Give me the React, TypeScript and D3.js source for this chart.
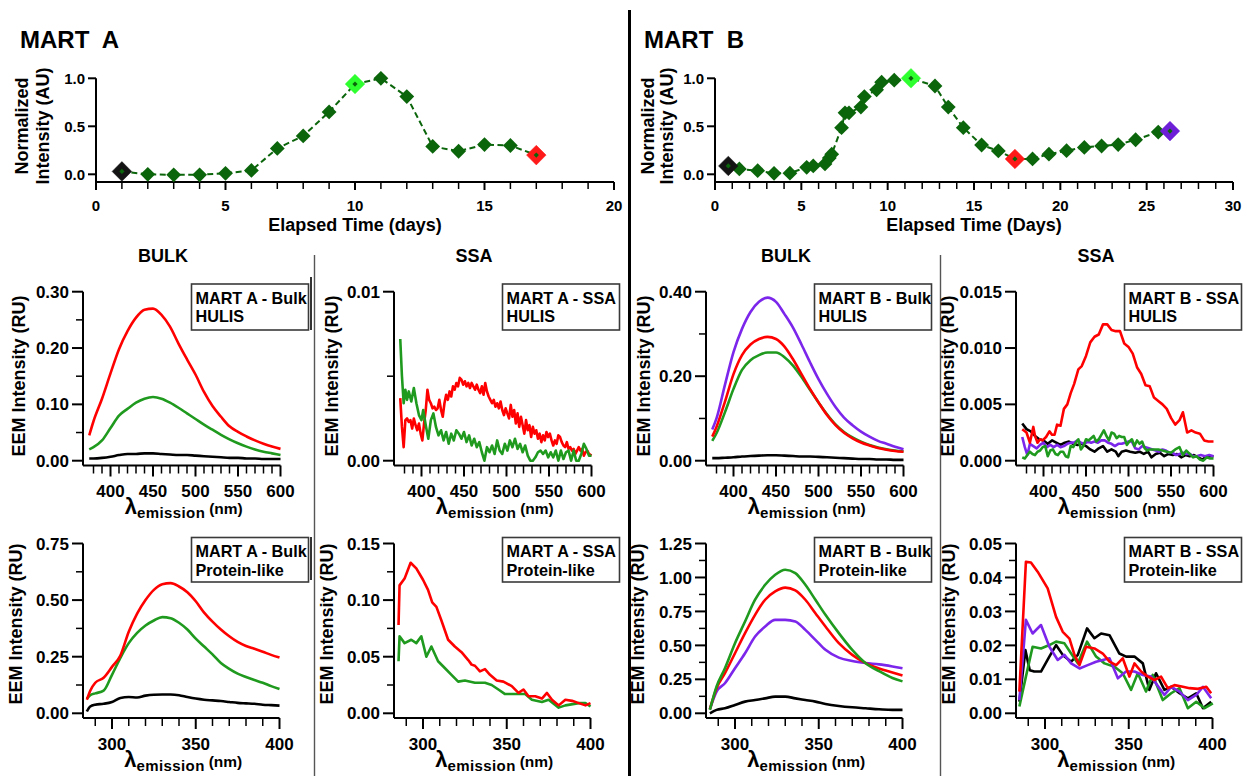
import React from 'react';
import * as d3 from 'd3';

const FONT = '"Liberation Sans", Arial, Helvetica, sans-serif';

// ---------- Time courses (normalized intensity vs elapsed time) ----------
const martADays = [1, 2, 3, 4, 5, 6, 7, 8, 9, 10, 11, 12, 13, 14, 15, 16, 17];
const martAIntensity = [0.03, 0.0, -0.005, -0.005, 0.01, 0.04, 0.27, 0.4, 0.65, 0.94, 1.0, 0.81, 0.29, 0.24, 0.31, 0.3, 0.2];
const martAMarkedDays = [1, 10, 17];
const martAMarkedColors = ['#141414', '#2eff2e', '#ff1a1a'];

const martBDays = [0.77, 1.41, 2.47, 3.42, 4.34, 5.31, 5.69, 6.37, 6.62, 6.76, 7.33, 7.53, 7.76, 8.45, 8.65, 9.36, 9.65, 10.38, 11.35, 12.74, 13.51, 14.38, 15.44, 16.41, 17.37, 18.39, 19.34, 20.36, 21.39, 22.39, 23.35, 24.36, 25.67, 26.35];
const martBIntensity = [0.087, 0.056, 0.038, 0.01, 0.012, 0.073, 0.087, 0.108, 0.17, 0.21, 0.486, 0.64, 0.64, 0.7, 0.81, 0.88, 0.96, 0.98, 1.0, 0.92, 0.7, 0.486, 0.305, 0.243, 0.16, 0.16, 0.21, 0.246, 0.28, 0.295, 0.31, 0.36, 0.44, 0.45];
const martBMarkedDays = [0.77, 11.35, 17.37, 26.35];
const martBMarkedColors = ['#141414', '#2eff2e', '#ff1a1a', '#6d1fd8'];

// ---------- Bulk HULIS spectra ----------
const hulisNm = [375, 380, 390, 400, 410, 420, 430, 440, 450, 460, 470, 480, 490, 500, 510, 520, 530, 540, 550, 560, 570, 580, 590, 600];
const bulkAHulisRed = [0.045, 0.07, 0.11, 0.155, 0.198, 0.23, 0.254, 0.268, 0.27, 0.259, 0.238, 0.208, 0.18, 0.153, 0.122, 0.097, 0.078, 0.061, 0.051, 0.043, 0.036, 0.03, 0.025, 0.021];
const bulkAHulisGreen = [0.02, 0.024, 0.036, 0.058, 0.08, 0.092, 0.103, 0.11, 0.113, 0.11, 0.103, 0.094, 0.084, 0.074, 0.064, 0.055, 0.046, 0.038, 0.031, 0.025, 0.02, 0.016, 0.013, 0.01];
const bulkAHulisBlack = [0.004, 0.004, 0.005, 0.007, 0.01, 0.012, 0.012, 0.013, 0.013, 0.012, 0.011, 0.01, 0.01, 0.009, 0.008, 0.007, 0.006, 0.005, 0.005, 0.004, 0.004, 0.003, 0.003, 0.003];

const bulkBHulisPurple = [0.074, 0.1, 0.18, 0.257, 0.312, 0.352, 0.376, 0.386, 0.376, 0.347, 0.315, 0.275, 0.233, 0.193, 0.158, 0.127, 0.102, 0.084, 0.069, 0.057, 0.047, 0.04, 0.033, 0.027];
const bulkBHulisRed = [0.057, 0.08, 0.14, 0.205, 0.25, 0.275, 0.288, 0.293, 0.288, 0.27, 0.24, 0.205, 0.17, 0.138, 0.108, 0.084, 0.066, 0.053, 0.043, 0.036, 0.03, 0.026, 0.023, 0.021];
const bulkBHulisGreen = [0.047, 0.065, 0.115, 0.17, 0.215, 0.238, 0.25, 0.256, 0.256, 0.245, 0.225, 0.198, 0.168, 0.138, 0.11, 0.086, 0.068, 0.055, 0.045, 0.037, 0.031, 0.027, 0.024, 0.022];
const bulkBHulisBlack = [0.006, 0.006, 0.007, 0.008, 0.01, 0.011, 0.012, 0.013, 0.013, 0.012, 0.011, 0.01, 0.01, 0.009, 0.008, 0.007, 0.006, 0.005, 0.004, 0.004, 0.003, 0.003, 0.002, 0.002];

// ---------- SSA HULIS spectra ([nm, RU]) ----------
const ssaAHulisGreen: [number, number][] = [[375, 0.0072], [377, 0.005], [379, 0.0034], [381, 0.0042], [383, 0.0036], [385, 0.0041], [388, 0.0035], [391, 0.0043], [394, 0.0034], [397, 0.0027], [400, 0.0024], [402, 0.003], [405, 0.0021], [408, 0.0013], [411, 0.0024], [414, 0.0028], [417, 0.002], [420, 0.0015], [423, 0.0018], [426, 0.0012], [429, 0.0017], [432, 0.001], [435, 0.0016], [438, 0.0012], [441, 0.0018], [444, 0.0016], [447, 0.0013], [450, 0.0017], [453, 0.0011], [456, 0.0015], [459, 0.0009], [462, 0.0013], [465, 0.0008], [468, 0.0011], [471, 0.0005], [474, 0.0], [477, 0.0008], [480, 0.0005], [483, 0.0009], [486, 0.0004], [489, 0.0012], [492, 0.0006], [495, 0.0004], [498, 0.001], [501, 0.0006], [504, 0.0012], [507, 0.0008], [510, 0.0013], [513, 0.0007], [516, 0.001], [519, 0.0005], [522, 0.0009], [525, 0.0003], [528, 0.0], [531, 0.0], [534, 0.0002], [537, 0.0005], [540, 0.0006], [543, 0.0004], [546, 0.0006], [549, 0.0002], [552, 0.0005], [555, 0.0002], [558, 0.0006], [561, 0.0], [564, 0.0006], [567, 0.0001], [570, 0.0005], [573, 0.0006], [576, 0.0], [579, 0.0006], [582, 0.0], [585, 0.0], [588, 0.0004], [591, 0.001], [594, 0.0007], [597, 0.0003], [600, 0.0003]];
const ssaAHulisRed: [number, number][] = [[375, 0.0037], [377, 0.002], [379, 0.0008], [381, 0.0024], [383, 0.0025], [385, 0.0023], [387, 0.0024], [389, 0.0019], [391, 0.0025], [393, 0.0021], [395, 0.0018], [397, 0.0022], [399, 0.0016], [401, 0.0012], [403, 0.0022], [405, 0.003], [407, 0.0042], [409, 0.0036], [411, 0.0034], [413, 0.0031], [415, 0.0032], [417, 0.003], [419, 0.0031], [421, 0.0036], [423, 0.003], [425, 0.0026], [427, 0.0034], [429, 0.0039], [431, 0.0036], [433, 0.0041], [435, 0.0038], [437, 0.0044], [439, 0.0042], [441, 0.0046], [443, 0.0044], [445, 0.0049], [447, 0.0048], [449, 0.0045], [451, 0.0047], [453, 0.0044], [455, 0.0046], [457, 0.0043], [459, 0.0046], [461, 0.0044], [463, 0.0042], [465, 0.0045], [467, 0.0042], [469, 0.004], [471, 0.0044], [473, 0.0039], [475, 0.0046], [477, 0.0041], [479, 0.0038], [481, 0.0036], [483, 0.0034], [485, 0.0036], [487, 0.0032], [489, 0.0034], [491, 0.0031], [493, 0.0035], [495, 0.003], [497, 0.0027], [499, 0.0031], [501, 0.0028], [503, 0.0025], [505, 0.0033], [507, 0.0026], [509, 0.003], [511, 0.0022], [513, 0.0028], [515, 0.002], [517, 0.0026], [519, 0.0021], [521, 0.0016], [523, 0.0024], [525, 0.0018], [527, 0.0021], [529, 0.0014], [531, 0.002], [533, 0.0016], [535, 0.0018], [537, 0.0013], [539, 0.0016], [541, 0.0011], [543, 0.0015], [545, 0.0012], [547, 0.0017], [549, 0.0014], [551, 0.0016], [553, 0.0012], [555, 0.0009], [557, 0.0012], [559, 0.001], [561, 0.0015], [563, 0.0014], [565, 0.0011], [567, 0.0009], [569, 0.0008], [571, 0.0011], [573, 0.0007], [575, 0.0008], [577, 0.0006], [579, 0.0007], [581, 0.0004], [583, 0.0006], [585, 0.0008], [587, 0.0006], [589, 0.0007], [591, 0.0003], [593, 0.0005], [595, 0.0006], [597, 0.0004], [600, 0.0003]];

const ssaBHulisBlack: [number, number][] = [[375, 0.0033], [380, 0.0028], [385, 0.0026], [390, 0.0022], [395, 0.0019], [400, 0.0018], [405, 0.0015], [410, 0.0018], [415, 0.0016], [420, 0.0014], [425, 0.0016], [430, 0.0017], [435, 0.0015], [440, 0.0014], [445, 0.0015], [450, 0.0013], [455, 0.001], [460, 0.0008], [465, 0.0011], [470, 0.0013], [475, 0.0008], [480, 0.001], [485, 0.0008], [488, 0.0004], [492, 0.0008], [497, 0.0009], [502, 0.0008], [508, 0.0007], [513, 0.0008], [518, 0.0006], [523, 0.0008], [527, 0.0003], [532, 0.0006], [537, 0.0007], [542, 0.0004], [547, 0.0006], [552, 0.0005], [557, 0.0006], [562, 0.0003], [567, 0.0005], [572, 0.0004], [577, 0.0005], [582, 0.0003], [587, 0.0001], [592, 0.0004], [596, 0.0004], [600, 0.0004]];
const ssaBHulisPurple: [number, number][] = [[375, 0.0021], [378, 0.0012], [381, 0.0005], [384, 0.0015], [388, 0.0013], [392, 0.0011], [396, 0.0014], [400, 0.0016], [404, 0.0012], [408, 0.0014], [412, 0.0012], [416, 0.0014], [420, 0.0012], [424, 0.0013], [428, 0.0015], [432, 0.0016], [436, 0.0016], [440, 0.0018], [444, 0.0016], [448, 0.0015], [452, 0.0017], [456, 0.0016], [460, 0.0017], [464, 0.0016], [468, 0.0018], [472, 0.0018], [476, 0.0016], [480, 0.0015], [484, 0.0013], [488, 0.0015], [492, 0.0015], [496, 0.0016], [500, 0.0017], [504, 0.0017], [508, 0.0011], [512, 0.001], [516, 0.0013], [520, 0.0012], [524, 0.0011], [528, 0.001], [532, 0.0009], [536, 0.0008], [540, 0.001], [544, 0.0009], [548, 0.0007], [552, 0.0007], [556, 0.0005], [560, 0.0006], [564, 0.0007], [568, 0.0006], [572, 0.0006], [576, 0.0004], [580, 0.0004], [585, 0.0005], [590, 0.0004], [595, 0.0005], [600, 0.0004]];
const ssaBHulisGreen: [number, number][] = [[375, 0.0003], [378, 0.0002], [381, 0.0005], [384, 0.0008], [387, 0.0006], [390, 0.0005], [393, 0.0008], [396, 0.0009], [399, 0.0012], [402, 0.0013], [405, 0.0004], [408, 0.0009], [411, 0.001], [414, 0.0006], [417, 0.0005], [420, 0.0008], [423, 0.0008], [426, 0.0004], [429, 0.0003], [432, 0.0013], [435, 0.0012], [438, 0.0016], [441, 0.0019], [444, 0.001], [447, 0.0013], [450, 0.0019], [453, 0.0018], [456, 0.002], [459, 0.0022], [462, 0.0017], [465, 0.0019], [468, 0.0023], [471, 0.0027], [474, 0.0022], [477, 0.0018], [480, 0.0025], [483, 0.0024], [486, 0.002], [489, 0.0022], [492, 0.0021], [495, 0.0021], [498, 0.0014], [501, 0.0017], [504, 0.0019], [507, 0.0013], [510, 0.0018], [513, 0.0015], [516, 0.0017], [519, 0.0011], [522, 0.0009], [525, 0.001], [530, 0.001], [535, 0.001], [540, 0.0009], [545, 0.0008], [550, 0.0007], [555, 0.001], [560, 0.0012], [564, 0.0005], [568, 0.0009], [572, 0.0006], [576, 0.0003], [580, 0.0004], [584, 0.0001], [588, 0.0], [592, 0.0003], [596, 0.0002], [600, 0.0002]];
const ssaBHulisRed: [number, number][] = [[375, 0.0028], [380, 0.0025], [384, 0.0016], [388, 0.003], [390, 0.0022], [393, 0.0016], [396, 0.0019], [399, 0.0018], [403, 0.0021], [407, 0.0026], [410, 0.0023], [413, 0.0023], [416, 0.0032], [420, 0.0031], [424, 0.0046], [428, 0.005], [432, 0.006], [436, 0.0068], [441, 0.0081], [445, 0.0084], [450, 0.0093], [455, 0.0105], [460, 0.011], [465, 0.0112], [470, 0.0121], [475, 0.0121], [480, 0.0116], [485, 0.0115], [490, 0.0115], [495, 0.0104], [500, 0.0101], [505, 0.0095], [510, 0.0083], [515, 0.0077], [520, 0.0067], [525, 0.0066], [530, 0.0056], [535, 0.0053], [540, 0.005], [545, 0.0046], [550, 0.0038], [555, 0.0032], [560, 0.0036], [564, 0.0043], [569, 0.0025], [574, 0.0027], [579, 0.0025], [584, 0.0024], [589, 0.0018], [594, 0.0017], [600, 0.0017]];

// ---------- Bulk protein-like spectra ----------
const protNm = [285, 287, 290, 295, 300, 305, 310, 315, 320, 325, 330, 335, 340, 345, 350, 355, 360, 365, 370, 375, 380, 385, 390, 395, 400];
const bulkAProtRed = [0.06, 0.1, 0.135, 0.157, 0.205, 0.255, 0.36, 0.44, 0.5, 0.545, 0.57, 0.575, 0.56, 0.535, 0.495, 0.445, 0.405, 0.37, 0.34, 0.315, 0.297, 0.285, 0.272, 0.258, 0.246];
const bulkAProtGreen = [0.065, 0.08, 0.088, 0.1, 0.17, 0.245, 0.31, 0.355, 0.388, 0.41, 0.425, 0.42, 0.4, 0.37, 0.33, 0.295, 0.26, 0.222, 0.196, 0.175, 0.16, 0.147, 0.135, 0.12, 0.107];
const bulkAProtBlack = [0.008, 0.03, 0.038, 0.042, 0.05, 0.068, 0.072, 0.07, 0.078, 0.082, 0.083, 0.083, 0.08, 0.072, 0.065, 0.06, 0.057, 0.054, 0.05, 0.046, 0.044, 0.042, 0.038, 0.036, 0.034];

const bulkBProtNm = [285, 289, 294, 300, 306, 312, 318, 324, 330, 336, 342, 348, 354, 362, 370, 378, 386, 394, 400];
const bulkBProtGreen = [0.025, 0.197, 0.332, 0.516, 0.676, 0.836, 0.946, 1.02, 1.057, 1.032, 0.946, 0.836, 0.725, 0.59, 0.467, 0.369, 0.31, 0.26, 0.235];
const bulkBProtRed = [0.03, 0.184, 0.295, 0.442, 0.59, 0.725, 0.836, 0.897, 0.925, 0.905, 0.836, 0.737, 0.639, 0.516, 0.43, 0.37, 0.33, 0.3, 0.278];
const bulkBProtPurple = [0.03, 0.16, 0.221, 0.332, 0.442, 0.565, 0.639, 0.688, 0.688, 0.676, 0.614, 0.541, 0.467, 0.41, 0.385, 0.37, 0.36, 0.345, 0.332];
const bulkBProtBlack = [0.0, 0.025, 0.037, 0.061, 0.086, 0.098, 0.11, 0.123, 0.123, 0.11, 0.098, 0.086, 0.069, 0.054, 0.044, 0.037, 0.03, 0.025, 0.025];

// ---------- SSA protein-like spectra ([nm, RU]) ----------
const ssaAProtRed: [number, number][] = [[285.4, 0.078], [286, 0.113], [289, 0.119], [292.6, 0.133], [296, 0.128], [300, 0.118], [303, 0.109], [305.5, 0.098], [308, 0.094], [311, 0.082], [315, 0.065], [319, 0.059], [323, 0.054], [327, 0.047], [329, 0.043], [331, 0.042], [334, 0.037], [337, 0.039], [340, 0.034], [344, 0.029], [348, 0.028], [353, 0.024], [357, 0.018], [360, 0.021], [363, 0.015], [367, 0.015], [371, 0.013], [374, 0.018], [377, 0.012], [381, 0.007], [385, 0.012], [389, 0.011], [393, 0.009], [397, 0.007], [400, 0.009]];
const ssaAProtGreen: [number, number][] = [[285.4, 0.046], [286, 0.068], [289, 0.062], [293, 0.065], [296, 0.062], [299, 0.068], [302, 0.05], [305, 0.059], [309, 0.046], [313, 0.04], [317, 0.034], [321, 0.028], [325, 0.029], [331, 0.027], [337, 0.027], [341, 0.025], [345, 0.021], [349, 0.017], [355, 0.017], [361, 0.017], [365, 0.012], [371, 0.01], [375, 0.012], [381, 0.005], [385, 0.007], [393, 0.009], [397, 0.009], [400, 0.006]];

const ssaBProtBlack: [number, number][] = [[284.7, 0.0034], [288.3, 0.0186], [290.9, 0.0127], [293.6, 0.0123], [297.6, 0.0123], [302.6, 0.0167], [306.6, 0.0201], [310.6, 0.0172], [315.6, 0.0152], [319.6, 0.0172], [325.1, 0.025], [329.5, 0.0221], [333.5, 0.0235], [338.5, 0.023], [344.4, 0.0176], [348.4, 0.0167], [353.4, 0.0167], [358.4, 0.0147], [362.3, 0.0069], [366.3, 0.0118], [371.3, 0.0069], [375.3, 0.0078], [380.3, 0.0059], [385.3, 0.0044], [390.3, 0.0059], [394.3, 0.0015], [399.2, 0.0034]];
const ssaBProtGreen: [number, number][] = [[284.7, 0.002], [288.6, 0.0108], [292.6, 0.0196], [297.6, 0.0191], [302.6, 0.0201], [306.6, 0.0211], [311.6, 0.0206], [315.6, 0.0176], [319.6, 0.0147], [325.1, 0.0211], [330.5, 0.0167], [335.5, 0.0147], [341.5, 0.0137], [346.4, 0.0118], [351.4, 0.0069], [355.4, 0.0118], [360.3, 0.0064], [364.3, 0.0113], [370.3, 0.0039], [375.3, 0.0059], [380.3, 0.0074], [385.3, 0.0015], [390.3, 0.0034], [395.3, 0.0015], [400.2, 0.0029]];
const ssaBProtPurple: [number, number][] = [[284.7, 0.0039], [288.6, 0.0275], [292.6, 0.0235], [297.6, 0.026], [302.6, 0.0196], [307.6, 0.0157], [311.6, 0.0172], [315.6, 0.0147], [320.6, 0.0132], [325.5, 0.0142], [330.5, 0.0152], [338.5, 0.0162], [343.5, 0.0103], [348.4, 0.0123], [353.4, 0.0123], [358.4, 0.0113], [363.3, 0.0108], [371.3, 0.0054], [375.3, 0.0078], [380.3, 0.0064], [385.3, 0.0039], [390.3, 0.0054], [394.3, 0.0078], [399.2, 0.0044]];
const ssaBProtRed: [number, number][] = [[284.7, 0.0064], [288.6, 0.0446], [291.6, 0.0444], [295.6, 0.0417], [301.6, 0.0368], [306.6, 0.0284], [310.6, 0.024], [314.6, 0.022], [317.6, 0.0172], [320.6, 0.0142], [324.5, 0.0196], [329.5, 0.0191], [334.5, 0.0176], [338.5, 0.0152], [342.5, 0.0142], [346.4, 0.0162], [350.4, 0.0108], [353.4, 0.0147], [357.4, 0.0123], [361.4, 0.0108], [365.3, 0.0098], [369.3, 0.0108], [373.3, 0.0074], [377.3, 0.0083], [382.3, 0.0078], [386.3, 0.0074], [391.3, 0.0072], [396.3, 0.0078], [399.2, 0.0059]];

// ---------- Colours ----------
const RED = '#ff0000';
const GREEN = '#1f9a1f';
const BLACK = '#000000';
const PURPLE = '#7b26ea';
const DARK_GREEN = '#0b650b';

type Pt = [number, number];
const pair = (nm: number[], v: number[]): Pt[] => nm.map((n, i) => [n, v[i]] as Pt);

// ---------- Layout ----------
const COL_OFF = [0, 311, 623, 933];

const ROWS = {
  hulis: {
    domain: [400, 600], range: [110.5, 280.5], majors: d3.range(400, 601, 50), minors: d3.range(380, 600, 10),
    yZero: 460.7, yTop: 291.7, xAxisY: 465.5, tickBase: 497, labelBase: 514, boxY: 284, boxH: 46, line1: 303.5, line2: 322,
    titleCy: 376,
  },
  prot: {
    domain: [300, 400], range: [112, 279.5], majors: [300, 350, 400], minors: d3.range(290, 400, 10),
    yZero: 713.3, yTop: 543.5, xAxisY: 718, tickBase: 750, labelBase: 767, boxY: 537.5, boxH: 44.5, line1: 557, line2: 576,
    titleCy: 624,
  },
};

type Series = { color: string; pts: Pt[]; smooth?: boolean };

interface SpecProps {
  col: number;
  row: 'hulis' | 'prot';
  yMax: number;
  yMajor: number[];
  yFormat: (v: number) => string;
  yMinor: number[];
  series: Series[];
  legend: [string, string];
  titleOffset: number;
}

function SpectrumPanel({ col, row, yMax, yMajor, yFormat, yMinor, series, legend, titleOffset }: SpecProps) {
  const r = ROWS[row];
  const off = COL_OFF[col];
  const x = d3.scaleLinear().domain(r.domain).range([r.range[0] + off, r.range[1] + off]);
  const y = d3.scaleLinear().domain([0, yMax]).range([r.yZero, r.yTop]);
  const axisX = 83 + off;
  const xEnd = x(r.domain[1]);
  const smoothLine = d3.line<Pt>().x(d => x(d[0])).y(d => y(d[1])).curve(d3.curveMonotoneX);
  const rawLine = d3.line<Pt>().x(d => x(d[0])).y(d => y(d[1]));
  const minors = r.minors.filter(v => !r.majors.includes(v));
  const boxX = 191.5 + off;
  return (
    <g>
      {series.map((s, i) => (
        <path key={i} d={(s.smooth ? smoothLine : rawLine)(s.pts) || ''} fill="none" stroke={s.color} strokeWidth={2.6} strokeLinejoin="round" />
      ))}
      {/* y axis */}
      <line x1={axisX} x2={axisX} y1={r.yTop} y2={r.xAxisY} stroke="#000" strokeWidth={2} />
      {yMajor.map(v => (
        <g key={'ym' + v}>
          <line x1={axisX - 11} x2={axisX} y1={y(v)} y2={y(v)} stroke="#000" strokeWidth={2} />
          <text x={axisX - 14} y={y(v)} dy="0.36em" textAnchor="end" fontSize={17} fontWeight="bold">{yFormat(v)}</text>
        </g>
      ))}
      {yMinor.map(v => (
        <line key={'yn' + v} x1={axisX - 7} x2={axisX} y1={y(v)} y2={y(v)} stroke="#000" strokeWidth={1.5} />
      ))}
      {/* x axis */}
      <line x1={axisX} x2={xEnd} y1={r.xAxisY} y2={r.xAxisY} stroke="#000" strokeWidth={2} />
      {r.majors.map(v => (
        <g key={'xm' + v}>
          <line x1={x(v)} x2={x(v)} y1={r.xAxisY} y2={r.xAxisY + 11} stroke="#000" strokeWidth={2} />
          <text x={x(v)} y={r.tickBase} textAnchor="middle" fontSize={17} fontWeight="bold">{v}</text>
        </g>
      ))}
      {minors.map(v => (
        <line key={'xn' + v} x1={x(v)} x2={x(v)} y1={r.xAxisY} y2={r.xAxisY + 8} stroke="#000" strokeWidth={1.5} />
      ))}
      {/* axis titles */}
      <text x={(axisX + xEnd) / 2 + 2} y={r.labelBase} textAnchor="middle" fontWeight="bold">
        <tspan fontSize={22}>λ</tspan>
        <tspan fontSize={15} dy={4} letterSpacing={0.4}>emission</tspan>
        <tspan fontSize={15.5} dy={-4} dx={4}>(nm)</tspan>
      </text>
      <text transform={`translate(${axisX - titleOffset},${r.titleCy}) rotate(-90)`} textAnchor="middle" dominantBaseline="central" fontSize={18} fontWeight="bold">
        EEM Intensity (RU)
      </text>
      {/* legend box */}
      <rect x={boxX} y={r.boxY} width={117} height={r.boxH} fill="#fff" stroke="#3a3a3a" strokeWidth={1.6} />
      <text x={boxX + 4} y={r.line1} fontSize={16.2} fontWeight="bold">{legend[0]}</text>
      <text x={boxX + 4} y={r.line2} fontSize={16.2} fontWeight="bold">{legend[1]}</text>
    </g>
  );
}

interface TimeProps {
  axisX: number;
  axisEnd: number;
  maxDay: number;
  days: number[];
  values: number[];
  markedDays: number[];
  markedColors: string[];
  title: string;
  titleX: number;
  xLabel: string;
  yLab1X: number;
  yLab2X: number;
}

const diamond = (cx: number, cy: number, r: number) => `M${cx},${cy - r}L${cx + r},${cy}L${cx},${cy + r}L${cx - r},${cy}Z`;

function TimeCourse({ axisX, axisEnd, maxDay, days, values, markedDays, markedColors, title, titleX, xLabel, yLab1X, yLab2X }: TimeProps) {
  const x = d3.scaleLinear().domain([0, maxDay]).range([axisX, axisEnd]);
  const y = d3.scaleLinear().domain([0, 1]).range([174.3, 78.3]);
  const axisY = 182;
  const pts: Pt[] = days.map((d, i) => [d, values[i]]);
  const path = d3.line<Pt>().x(d => x(d[0])).y(d => y(d[1]))(pts) || '';
  const ticks = d3.range(0, maxDay + 1, 1);
  return (
    <g>
      <text x={titleX} y={48} fontSize={24} fontWeight="bold" style={{ whiteSpace: 'pre' }}>{title}</text>
      {/* axes */}
      <line x1={axisX} x2={axisX} y1={y(1)} y2={axisY} stroke="#000" strokeWidth={2} />
      {[0, 0.5, 1].map(v => (
        <g key={v}>
          <line x1={axisX - 8} x2={axisX} y1={y(v)} y2={y(v)} stroke="#000" strokeWidth={2} />
          <text x={axisX - 11} y={y(v)} dy="0.36em" textAnchor="end" fontSize={15} fontWeight="bold">{v.toFixed(1)}</text>
        </g>
      ))}
      <line x1={axisX} x2={axisEnd} y1={axisY} y2={axisY} stroke="#000" strokeWidth={2} />
      {ticks.map(t => (
        <line key={t} x1={x(t)} x2={x(t)} y1={axisY} y2={axisY + (t % 5 === 0 ? 8 : 7)} stroke="#000" strokeWidth={t % 5 === 0 ? 2 : 1.5} />
      ))}
      {ticks.filter(t => t % 5 === 0).map(t => (
        <text key={'l' + t} x={x(t)} y={211} textAnchor="middle" fontSize={15} fontWeight="bold">{t}</text>
      ))}
      <text x={(axisX + axisEnd) / 2} y={231} textAnchor="middle" fontSize={18} fontWeight="bold">{xLabel}</text>
      <text transform={`translate(${yLab1X},126) rotate(-90)`} textAnchor="middle" dominantBaseline="central" fontSize={18} fontWeight="bold">Normalized</text>
      <text transform={`translate(${yLab2X},126) rotate(-90)`} textAnchor="middle" dominantBaseline="central" fontSize={18} fontWeight="bold">Intensity (AU)</text>
      {/* series */}
      <path d={path} fill="none" stroke={DARK_GREEN} strokeWidth={2} strokeDasharray="6,3.5" />
      {pts.map((p, i) => (
        <path key={i} d={diamond(x(p[0]), y(p[1]), 7.4)} fill={DARK_GREEN} />
      ))}
      {markedDays.map((d, i) => {
        const idx = days.indexOf(d);
        const cx = x(d);
        const cy = y(values[idx]);
        return (
          <g key={'m' + i}>
            <path d={diamond(cx, cy, 9.8)} fill={markedColors[i]} stroke={markedColors[i]} strokeWidth={1} strokeOpacity={0.5} />
            <path d={diamond(cx, cy, 2.6)} fill={DARK_GREEN} />
          </g>
        );
      })}
    </g>
  );
}

const fmt2 = (v: number) => v.toFixed(2);
const fmt3 = (v: number) => v.toFixed(3);

export default function App() {
  return (
    <div style={{ position: 'absolute', left: 0, top: 0, background: '#fff' }}>
      <svg width={1247} height={776} viewBox="0 0 1247 776" style={{ display: 'block', fontFamily: FONT }}>
        <rect width={1247} height={776} fill="#fff" />

        <TimeCourse axisX={96} axisEnd={614} maxDay={20} days={martADays} values={martAIntensity}
          markedDays={martAMarkedDays} markedColors={martAMarkedColors} title={'MART  A'} titleX={20}
          xLabel="Elapsed Time (days)" yLab1X={22} yLab2X={43} />
        <TimeCourse axisX={715} axisEnd={1233} maxDay={30} days={martBDays} values={martBIntensity}
          markedDays={martBMarkedDays} markedColors={martBMarkedColors} title={'MART  B'} titleX={644}
          xLabel="Elapsed Time (Days)" yLab1X={648} yLab2X={667} />

        {/* column headings */}
        {COL_OFF.map((off, i) => (
          <text key={i} x={off + 163} y={262} textAnchor="middle" fontSize={18} fontWeight="bold">{i % 2 === 0 ? 'BULK' : 'SSA'}</text>
        ))}

        {/* separators */}
        <line x1={629.5} x2={629.5} y1={10} y2={776} stroke="#000" strokeWidth={3} />
        <line x1={314.5} x2={314.5} y1={255} y2={776} stroke="#555" strokeWidth={1.4} />
        <line x1={940.5} x2={940.5} y1={255} y2={776} stroke="#555" strokeWidth={1.4} />
        <line x1={311} x2={311} y1={277} y2={330} stroke="#333" strokeWidth={2} />
        <line x1={311} x2={311} y1={537} y2={580} stroke="#333" strokeWidth={2} />

        {/* HULIS row */}
        <SpectrumPanel col={0} row="hulis" yMax={0.3} yMajor={[0, 0.1, 0.2, 0.3]} yFormat={fmt2} yMinor={[0.05, 0.15, 0.25]}
          legend={['MART A - Bulk', 'HULIS']} titleOffset={64}
          series={[
            { color: BLACK, pts: pair(hulisNm, bulkAHulisBlack), smooth: true },
            { color: GREEN, pts: pair(hulisNm, bulkAHulisGreen), smooth: true },
            { color: RED, pts: pair(hulisNm, bulkAHulisRed), smooth: true },
          ]} />
        <SpectrumPanel col={1} row="hulis" yMax={0.01} yMajor={[0, 0.01]} yFormat={fmt2} yMinor={[0.005]}
          legend={['MART A - SSA', 'HULIS']} titleOffset={62}
          series={[
            { color: RED, pts: ssaAHulisRed },
            { color: GREEN, pts: ssaAHulisGreen },
          ]} />
        <SpectrumPanel col={2} row="hulis" yMax={0.4} yMajor={[0, 0.2, 0.4]} yFormat={fmt2} yMinor={[0.1, 0.3]}
          legend={['MART B - Bulk', 'HULIS']} titleOffset={62}
          series={[
            { color: BLACK, pts: pair(hulisNm, bulkBHulisBlack), smooth: true },
            { color: GREEN, pts: pair(hulisNm, bulkBHulisGreen), smooth: true },
            { color: RED, pts: pair(hulisNm, bulkBHulisRed), smooth: true },
            { color: PURPLE, pts: pair(hulisNm, bulkBHulisPurple), smooth: true },
          ]} />
        <SpectrumPanel col={3} row="hulis" yMax={0.015} yMajor={[0, 0.005, 0.01, 0.015]} yFormat={fmt3} yMinor={[]}
          legend={['MART B - SSA', 'HULIS']} titleOffset={68}
          series={[
            { color: BLACK, pts: ssaBHulisBlack },
            { color: PURPLE, pts: ssaBHulisPurple },
            { color: GREEN, pts: ssaBHulisGreen },
            { color: RED, pts: ssaBHulisRed },
          ]} />

        {/* Protein-like row */}
        <SpectrumPanel col={0} row="prot" yMax={0.75} yMajor={[0, 0.25, 0.5, 0.75]} yFormat={fmt2} yMinor={[0.125, 0.375, 0.625]}
          legend={['MART A - Bulk', 'Protein-like']} titleOffset={67}
          series={[
            { color: BLACK, pts: pair(protNm, bulkAProtBlack), smooth: true },
            { color: GREEN, pts: pair(protNm, bulkAProtGreen), smooth: true },
            { color: RED, pts: pair(protNm, bulkAProtRed), smooth: true },
          ]} />
        <SpectrumPanel col={1} row="prot" yMax={0.15} yMajor={[0, 0.05, 0.1, 0.15]} yFormat={fmt2} yMinor={[0.025, 0.075, 0.125]}
          legend={['MART A - SSA', 'Protein-like']} titleOffset={67}
          series={[
            { color: GREEN, pts: ssaAProtGreen },
            { color: RED, pts: ssaAProtRed },
          ]} />
        <SpectrumPanel col={2} row="prot" yMax={1.25} yMajor={[0, 0.25, 0.5, 0.75, 1.0, 1.25]} yFormat={fmt2} yMinor={[0.125, 0.375, 0.625, 0.875, 1.125]}
          legend={['MART B - Bulk', 'Protein-like']} titleOffset={68}
          series={[
            { color: BLACK, pts: pair(bulkBProtNm, bulkBProtBlack), smooth: true },
            { color: PURPLE, pts: pair(bulkBProtNm, bulkBProtPurple), smooth: true },
            { color: RED, pts: pair(bulkBProtNm, bulkBProtRed), smooth: true },
            { color: GREEN, pts: pair(bulkBProtNm, bulkBProtGreen), smooth: true },
          ]} />
        <SpectrumPanel col={3} row="prot" yMax={0.05} yMajor={[0, 0.01, 0.02, 0.03, 0.04, 0.05]} yFormat={fmt2} yMinor={[0.005, 0.015, 0.025, 0.035, 0.045]}
          legend={['MART B - SSA', 'Protein-like']} titleOffset={67}
          series={[
            { color: BLACK, pts: ssaBProtBlack },
            { color: GREEN, pts: ssaBProtGreen },
            { color: PURPLE, pts: ssaBProtPurple },
            { color: RED, pts: ssaBProtRed },
          ]} />
      </svg>
    </div>
  );
}
